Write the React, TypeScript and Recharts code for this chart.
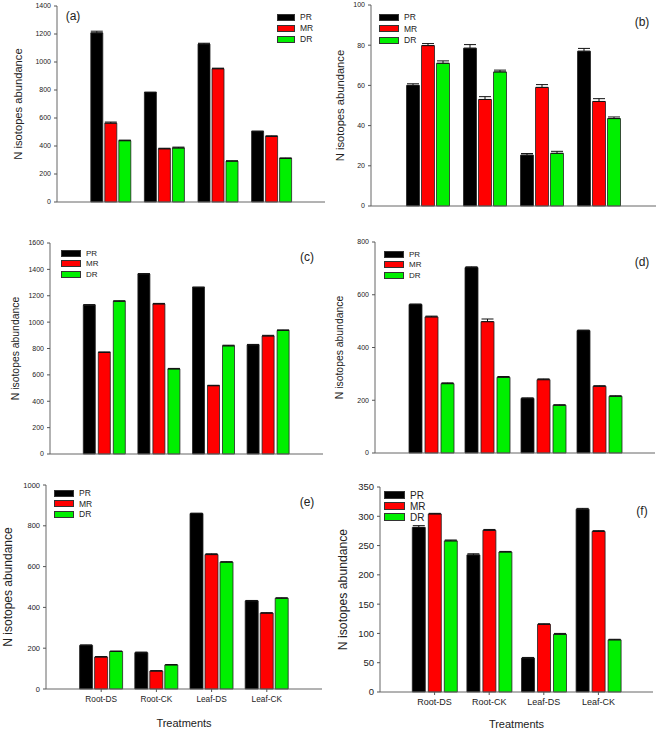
import { BarChart, Bar, XAxis, YAxis, ErrorBar, Legend, Label } from "recharts";

const FONT = '"Liberation Sans", Arial, sans-serif';

const CATEGORIES = ["Root-DS", "Root-CK", "Leaf-DS", "Leaf-CK"];
const SERIES = ["PR", "MR", "DR"];
const COLORS: Record<string, string> = { PR: "#000000", MR: "#ff0000", DR: "#00f000" };

// (a)
const A_PR = [1208, 782, 1128, 503];
const A_MR = [563, 380, 952, 468];
const A_DR = [438, 386, 292, 311];
const A_PR_ERR = [12, 3, 6, 4];
const A_MR_ERR = [8, 4, 4, 5];
const A_DR_ERR = [4, 6, 2, 4];
const A_TICKS = [0, 200, 400, 600, 800, 1000, 1200, 1400];

// (b)
const B_PR = [60, 78.5, 25.3, 77];
const B_MR = [79.8, 53, 59, 52];
const B_DR = [71, 66.7, 26.2, 43.5];
const B_PR_ERR = [0.8, 1.8, 0.8, 1.4];
const B_MR_ERR = [1, 1.4, 1.4, 1.4];
const B_DR_ERR = [1.2, 0.9, 1, 0.8];
const B_TICKS = [0, 20, 40, 60, 80, 100];

// (c)
const C_PR = [1128, 1365, 1263, 828];
const C_MR = [770, 1138, 518, 895];
const C_DR = [1158, 645, 820, 937];
const C_PR_ERR = [5, 3, 3, 3];
const C_MR_ERR = [4, 4, 3, 5];
const C_DR_ERR = [4, 4, 5, 4];
const C_TICKS = [0, 200, 400, 600, 800, 1000, 1200, 1400, 1600];

// (d)
const D_PR = [563, 703, 207, 464];
const D_MR = [516, 498, 278, 253];
const D_DR = [263, 287, 181, 215];
const D_PR_ERR = [2, 3, 2, 2];
const D_MR_ERR = [3, 10, 3, 2];
const D_DR_ERR = [3, 3, 2, 2];
const D_TICKS = [0, 200, 400, 600, 800];

// (e)
const E_PR = [214, 178, 860, 432];
const E_MR = [157, 88, 659, 372];
const E_DR = [184, 118, 622, 445];
const E_PR_ERR = [2, 3, 2, 2];
const E_MR_ERR = [2, 2, 4, 2];
const E_DR_ERR = [2, 2, 2, 2];
const E_TICKS = [0, 200, 400, 600, 800, 1000];

// (f)
const F_PR = [281, 234, 58, 312];
const F_MR = [304, 276, 115.5, 274];
const F_DR = [258, 239, 98.5, 89];
const F_PR_ERR = [3, 2, 1, 1.5];
const F_MR_ERR = [1, 1.5, 1, 1.5];
const F_DR_ERR = [1.5, 1, 1.5, 1];
const F_TICKS = [0, 50, 100, 150, 200, 250, 300, 350];

function buildRows(pr: number[], mr: number[], dr: number[], prE: number[], mrE: number[], drE: number[]) {
  return CATEGORIES.map((cat, i) => ({
    cat,
    PR: pr[i],
    MR: mr[i],
    DR: dr[i],
    PR_err: [0, prE[i]],
    MR_err: [0, mrE[i]],
    DR_err: [0, drE[i]],
  }));
}

type PanelCfg = {
  tag: string;
  rows: any[];
  ticks: number[];
  chart: { x: number; y: number; w: number; h: number };
  plot: { l: number; t: number; r: number; b: number };
  xAxisH: number;
  showCats: boolean;
  tickFont: number;
  catFont?: number;
  yLabelX: number;
  yLabelFont: number;
  legend: { x: number; y: number; font: number; sw: number; sh: number; row: number };
  tagPos: { x: number; y: number };
  barSize: number;
  barGap: number;
};

const PANELS: PanelCfg[] = [
  {
    tag: "(a)",
    rows: buildRows(A_PR, A_MR, A_DR, A_PR_ERR, A_MR_ERR, A_DR_ERR),
    ticks: A_TICKS,
    chart: { x: 0, y: 0, w: 330, h: 215 },
    plot: { l: 57, t: 6, r: 325, b: 202 },
    xAxisH: 8,
    showCats: false,
    tickFont: 7,
    yLabelX: 18,
    yLabelFont: 11.2,
    legend: { x: 277, y: 17, font: 8.5, sw: 16, sh: 5, row: 11 },
    tagPos: { x: 73, y: 16 },
    barSize: 12,
    barGap: 2,
  },
  {
    tag: "(b)",
    rows: buildRows(B_PR, B_MR, B_DR, B_PR_ERR, B_MR_ERR, B_DR_ERR),
    ticks: B_TICKS,
    chart: { x: 330, y: 0, w: 327, h: 215 },
    plot: { l: 371, t: 5, r: 656, b: 206 },
    xAxisH: 8,
    showCats: false,
    tickFont: 7,
    yLabelX: 340,
    yLabelFont: 11.2,
    legend: { x: 379, y: 17, font: 8.5, sw: 18, sh: 5, row: 11.5 },
    tagPos: { x: 642, y: 22 },
    barSize: 13,
    barGap: 2,
  },
  {
    tag: "(c)",
    rows: buildRows(C_PR, C_MR, C_DR, C_PR_ERR, C_MR_ERR, C_DR_ERR),
    ticks: C_TICKS,
    chart: { x: 0, y: 230, w: 330, h: 232 },
    plot: { l: 50, t: 243, r: 323, b: 454 },
    xAxisH: 8,
    showCats: false,
    tickFont: 7,
    yLabelX: 15,
    yLabelFont: 10.4,
    legend: { x: 61, y: 253, font: 8, sw: 18, sh: 5, row: 10.5 },
    tagPos: { x: 307, y: 257 },
    barSize: 12,
    barGap: 3,
  },
  {
    tag: "(d)",
    rows: buildRows(D_PR, D_MR, D_DR, D_PR_ERR, D_MR_ERR, D_DR_ERR),
    ticks: D_TICKS,
    chart: { x: 330, y: 230, w: 327, h: 232 },
    plot: { l: 375, t: 242, r: 655, b: 453 },
    xAxisH: 8,
    showCats: false,
    tickFont: 7,
    yLabelX: 339,
    yLabelFont: 10.4,
    legend: { x: 384, y: 254, font: 8, sw: 18, sh: 5, row: 10.5 },
    tagPos: { x: 642, y: 262 },
    barSize: 13,
    barGap: 3,
  },
  {
    tag: "(e)",
    rows: buildRows(E_PR, E_MR, E_DR, E_PR_ERR, E_MR_ERR, E_DR_ERR),
    ticks: E_TICKS,
    chart: { x: 0, y: 470, w: 330, h: 262 },
    plot: { l: 46, t: 485, r: 322, b: 689 },
    xAxisH: 40,
    showCats: true,
    tickFont: 7.5,
    catFont: 8.3,
    yLabelX: 8,
    yLabelFont: 12,
    legend: { x: 54, y: 493, font: 8.5, sw: 18, sh: 5, row: 10.5 },
    tagPos: { x: 307, y: 502 },
    barSize: 13,
    barGap: 2,
  },
  {
    tag: "(f)",
    rows: buildRows(F_PR, F_MR, F_DR, F_PR_ERR, F_MR_ERR, F_DR_ERR),
    ticks: F_TICKS,
    chart: { x: 330, y: 470, w: 327, h: 262 },
    plot: { l: 380, t: 487, r: 653, b: 692 },
    xAxisH: 38,
    showCats: true,
    tickFont: 9.5,
    catFont: 9,
    yLabelX: 343,
    yLabelFont: 12.2,
    legend: { x: 384, y: 495, font: 10, sw: 19, sh: 6, row: 11 },
    tagPos: { x: 642, y: 511 },
    barSize: 13,
    barGap: 3,
  },
];

function Panel({ cfg }: { cfg: PanelCfg }) {
  const { chart, plot } = cfg;
  const yW = plot.l - chart.x;
  const pad = (plot.r - plot.l) / 10;
  const margin = {
    top: plot.t - chart.y,
    right: chart.x + chart.w - plot.r,
    bottom: chart.y + chart.h - plot.b - cfg.xAxisH,
    left: 0,
  };
  const lg = cfg.legend;
  const yMax = cfg.ticks[cfg.ticks.length - 1];

  // keep legend rows in series order (PR, MR, DR)
  const renderLegend = (props: any) => {
    const items = [...(props.payload || [])].sort(
      (a: any, b: any) => SERIES.indexOf(a.value) - SERIES.indexOf(b.value)
    );
    return (
      <div style={{ fontFamily: FONT, fontSize: lg.font }}>
        {items.map((e: any) => (
          <div key={e.value} style={{ display: "flex", alignItems: "center", height: lg.row }}>
            <span
              style={{
                display: "inline-block",
                width: lg.sw,
                height: lg.sh,
                background: COLORS[e.value],
                border: "1px solid #333",
                marginRight: 5,
              }}
            />
            <span style={{ color: "#222" }}>{e.value}</span>
          </div>
        ))}
      </div>
    );
  };

  return (
    <div style={{ position: "absolute", left: chart.x, top: chart.y }}>
      <BarChart
        width={chart.w}
        height={chart.h}
        data={cfg.rows}
        margin={margin}
        barGap={cfg.barGap}
        style={{ fontFamily: FONT }}
      >
        <XAxis
          dataKey="cat"
          height={cfg.xAxisH}
          padding={{ left: pad, right: pad }}
          interval={0}
          tick={cfg.showCats ? { fontSize: cfg.catFont, fill: "#222" } : false}
          tickLine={cfg.showCats ? { stroke: "#555" } : false}
          tickSize={3}
          tickMargin={4}
          axisLine={{ stroke: "#666" }}
        >
          {cfg.showCats && (
            <Label
              value="Treatments"
              position="insideBottom"
              offset={2}
              style={{ fontSize: 11, fill: "#222", fontFamily: FONT }}
            />
          )}
        </XAxis>
        <XAxis
          xAxisId="top"
          orientation="top"
          dataKey="cat"
          height={0}
          tick={false}
          tickLine={false}
          axisLine={{ stroke: "#888" }}
        />
        <YAxis
          width={yW}
          domain={[0, yMax]}
          ticks={cfg.ticks}
          interval={0}
          tick={{ fontSize: cfg.tickFont, fill: "#222" }}
          tickSize={3}
          tickMargin={3}
          tickLine={{ stroke: "#555" }}
          axisLine={{ stroke: "#666" }}
        >
          <Label
            position="center"
            content={(p: any) => {
              const vb = p.viewBox || { y: 0, height: 0 };
              const lx = cfg.yLabelX - chart.x;
              const cy = vb.y + vb.height / 2;
              return (
                <text
                  x={lx}
                  y={cy}
                  transform={`rotate(-90 ${lx} ${cy})`}
                  textAnchor="middle"
                  dominantBaseline="central"
                  style={{ fontSize: cfg.yLabelFont, fill: "#222", fontFamily: FONT }}
                >
                  N isotopes abundance
                </text>
              );
            }}
          />
        </YAxis>
        <YAxis
          yAxisId="right"
          orientation="right"
          width={0}
          domain={[0, yMax]}
          tick={false}
          tickLine={false}
          axisLine={{ stroke: "#888" }}
        />
        <Legend
          layout="vertical"
          align="center"
          verticalAlign="middle"
          content={renderLegend}
          wrapperStyle={{
            position: "absolute",
            left: lg.x - chart.x,
            top: lg.y - chart.y - lg.row / 2,
            width: "auto",
          }}
        />
        {SERIES.map((s) => (
          <Bar
            key={s}
            dataKey={s}
            name={s}
            fill={COLORS[s]}
            stroke="#222"
            strokeWidth={0.8}
            barSize={cfg.barSize}
            isAnimationActive={false}
          >
            <ErrorBar dataKey={`${s}_err`} width={6} stroke="#111" strokeWidth={1} direction="y" />
          </Bar>
        ))}
      </BarChart>
      <div
        style={{
          position: "absolute",
          left: cfg.tagPos.x - chart.x,
          top: cfg.tagPos.y - chart.y,
          transform: "translate(-50%, -50%)",
          fontFamily: FONT,
          fontSize: 12,
          color: "#222",
        }}
      >
        {cfg.tag}
      </div>
    </div>
  );
}

export default function App() {
  return (
    <div style={{ position: "absolute", left: 0, top: 0, width: 657, height: 732, background: "#fff" }}>
      {PANELS.map((p) => (
        <Panel key={p.tag} cfg={p} />
      ))}
    </div>
  );
}
